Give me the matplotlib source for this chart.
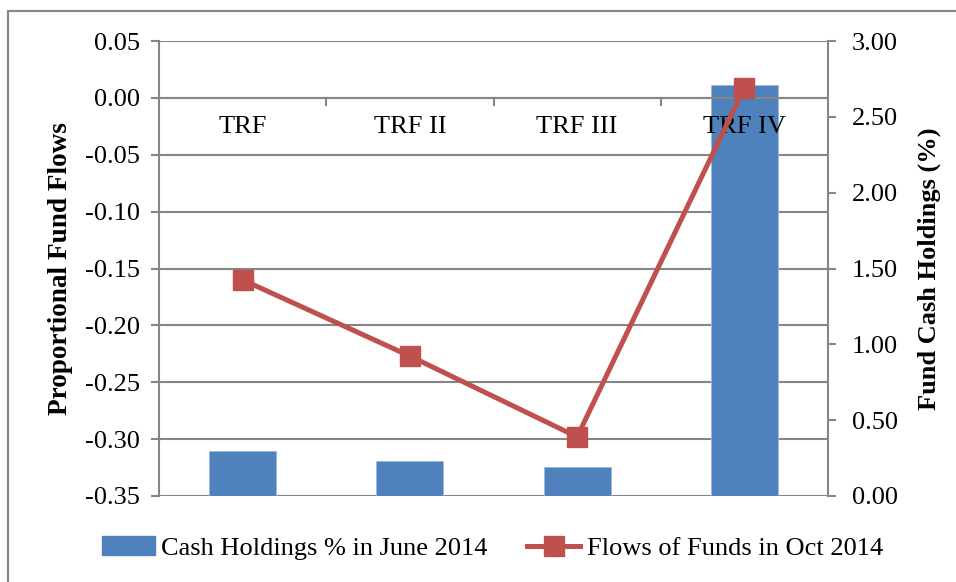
import matplotlib

matplotlib.use("Agg")
import matplotlib.pyplot as plt
from matplotlib.patches import Rectangle, Patch
from matplotlib.lines import Line2D

plt.rcParams["font.family"] = ["Liberation Serif", "DejaVu Serif"]

funds = ["TRF", "TRF II", "TRF III", "TRF IV"]
cash_june_2014 = [0.30, 0.23, 0.19, 2.71]  # right axis, %
flows_oct_2014 = [-0.160, -0.227, -0.298, 0.009]  # left axis

flow_ticks = [0.05, 0.00, -0.05, -0.10, -0.15, -0.20, -0.25, -0.30, -0.35]
cash_ticks = [0.0, 0.5, 1.0, 1.5, 2.0, 2.5, 3.0]

BLUE = "#4F81BD"
RED = "#C0504D"
GREY = "#868686"
FS = 19

fig = plt.figure(figsize=(9.56, 5.82), dpi=100)
rect = [159 / 956, 1 - 496 / 582, 669 / 956, 455 / 582]
ax = fig.add_axes(rect)               # flows scale, gridlines
ax2 = fig.add_axes(rect, zorder=2)    # cash scale, bars + category axis
ax2.patch.set_visible(False)

x = list(range(len(funds)))

# left axis: flows + gridlines
ax.set_xlim(-0.5, 3.5)
ax.set_ylim(-0.35, 0.05)
ax.set_yticks(flow_ticks)
ax.set_yticklabels([f"{v:.2f}" for v in flow_ticks], fontsize=FS)
ax.yaxis.grid(True, color=GREY, lw=1.5)
ax.xaxis.set_visible(False)
for s in ["top", "right", "bottom"]:
    ax.spines[s].set_visible(False)
ax.spines["left"].set_color(GREY)
ax.spines["left"].set_linewidth(1.5)
ax.tick_params(axis="y", length=6, width=1.5, color=GREY, pad=8)
ax.set_ylabel("Proportional Fund Flows", fontsize=19.6, fontweight="bold", labelpad=8)

# right axis: cash holdings bars
ax2.set_xlim(-0.5, 3.5)
ax2.set_ylim(0, 3.0)
ax2.bar(x, cash_june_2014, width=0.4, color=BLUE, edgecolor="#9DB9DC", lw=0.6, zorder=1)
ax2.yaxis.tick_right()
ax2.yaxis.set_label_position("right")
ax2.set_yticks(cash_ticks)
ax2.set_yticklabels([f"{v:.2f}" for v in cash_ticks], fontsize=FS)
ax2.tick_params(axis="y", length=6, width=1.5, color=GREY, pad=11)
ax2.set_ylabel("Fund Cash Holdings (%)", fontsize=FS, fontweight="bold", labelpad=14)
for s in ["top", "left"]:
    ax2.spines[s].set_visible(False)
ax2.spines["right"].set_color(GREY)
ax2.spines["right"].set_linewidth(1.5)

# category axis sits at flows = 0
zero_on_cash = (0 - (-0.35)) / 0.40 * 3.0
ax2.spines["bottom"].set_position(("data", zero_on_cash))
ax2.spines["bottom"].set_color(GREY)
ax2.spines["bottom"].set_linewidth(1.5)
ax2.set_xticks(x)
ax2.set_xticklabels(funds, fontsize=FS)
ax2.set_xticks([0.5, 1.5, 2.5], minor=True)
ax2.tick_params(axis="x", which="major", length=0, pad=13)
ax2.tick_params(axis="x", which="minor", length=6, width=1.5, color=GREY, direction="out")
ax2.set_axisbelow(False)

# flows line drawn in left-axis units, on top of bars
ax2.plot(x, flows_oct_2014, transform=ax.transData, color=RED, lw=3.6,
         marker="s", markersize=14, markerfacecolor=RED, markeredgecolor=RED,
         zorder=4, clip_on=False)

handles = [
    Patch(facecolor=BLUE, edgecolor=BLUE),
    Line2D([], [], color=RED, lw=3.6, marker="s", markersize=14),
]
fig.legend(handles, ["Cash Holdings % in June 2014", "Flows of Funds in Oct 2014"],
           loc="center", bbox_to_anchor=(0.515, 1 - 548 / 582), ncol=2, frameon=False,
           fontsize=FS, handlelength=2.0, handletextpad=0.25, columnspacing=1.5)

# chart-area border
fig.patches.append(Rectangle((8 / 956, -0.1), 1.2, 1 - 11 / 582 + 0.1,
                             transform=fig.transFigure, fill=False,
                             edgecolor=GREY, lw=1.5))

fig.savefig("out.png", dpi=100)
